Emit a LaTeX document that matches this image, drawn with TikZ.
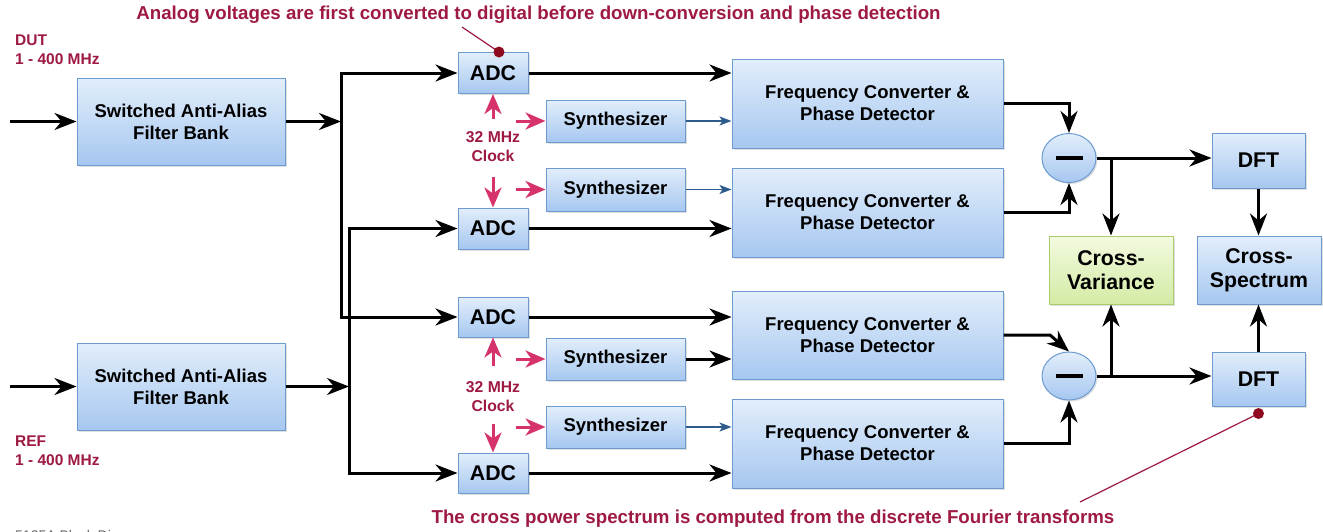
\documentclass[tikz,border=0pt]{standalone}
\usepackage{fontspec}
\setmainfont{Liberation Sans}
\usetikzlibrary{arrows.meta,shapes.geometric,shadows}
\definecolor{annc}{HTML}{9E1A42}
\definecolor{pinkc}{HTML}{D6336C}
\definecolor{dotc}{HTML}{8E0B1F}
\definecolor{bborder}{HTML}{6D9BD1}
\definecolor{btop}{HTML}{E2EEFB}
\definecolor{bbot}{HTML}{A6C7F0}
\definecolor{gborder}{HTML}{A9CC6F}
\definecolor{gtop}{HTML}{F3FADF}
\definecolor{gbot}{HTML}{D3EBA5}
\definecolor{thinc}{HTML}{2D5B8C}
\newcommand\mysz[2]{\fontsize{#1pt}{#2pt}\selectfont\bfseries}
\begin{document}
\begin{tikzpicture}[x=1pt,y=-1pt,
  box/.style={draw=bborder, line width=1pt, top color=btop, bottom color=bbot,
    inner sep=0pt, align=center, drop shadow={shadow xshift=1.5pt, shadow yshift=-1.5pt, opacity=0.25}},
  gbox/.style={box, draw=gborder, top color=gtop, bottom color=gbot},
  mid/.style={font=\mysz{18.5}{22}},
  big/.style={font=\mysz{21.3}{24}},
  blk/.style={line width=3pt, line join=miter, -{Stealth[length=22pt,width=17pt,inset=7pt]}},
  pk/.style={draw=pinkc, line width=3pt, -{Stealth[length=20pt,width=17pt,inset=6pt]}},
  thn/.style={draw=thinc, line width=1.5pt, -{Stealth[length=12pt,width=9pt,inset=3pt]}},
  ann/.style={text=annc, font=\mysz{18.7}{21}, inner sep=0pt},
  lbl/.style={text=annc, font=\mysz{15.5}{18.5}, align=left, inner sep=0pt, anchor=north west},
  clk/.style={text=annc, font=\mysz{15.7}{19}, align=center, inner sep=0pt},
]
\fill[white] (0,0) rectangle (1323,531);
\useasboundingbox (0,0) rectangle (1323,531);

% annotations
\node[ann] (ann1) at (538.5,15) {Analog voltages are first converted to digital before down-conversion and phase detection};
\node[ann] (ann2) at (773,519) {The cross power spectrum is computed from the discrete Fourier transforms};
\node[lbl] (dut) at (15,35) {DUT\\1 - 400 MHz};
\node[lbl] (ref) at (15,436) {REF\\1 - 400 MHz};
\node[anchor=base west, inner sep=0pt, text=black!60, font=\fontsize{14pt}{16pt}\selectfont] (cap) at (15,540) {5125A Block Diagram};

% filter banks
\node[box, mid, minimum width=208pt, minimum height=87pt] (fb1) at (181,121.5) {Switched Anti-Alias\\Filter Bank};
\node[box, mid, minimum width=208pt, minimum height=87pt] (fb2) at (181,386.5) {Switched Anti-Alias\\Filter Bank};

% ADCs
\node[box, big, minimum width=70pt, minimum height=41pt] (adc1) at (493,73) {ADC};
\node[box, big, minimum width=70pt, minimum height=41pt] (adc2) at (493,228.5) {ADC};
\node[box, big, minimum width=70pt, minimum height=40pt] (adc3) at (493,317) {ADC};
\node[box, big, minimum width=70pt, minimum height=40pt] (adc4) at (493,473) {ADC};

% synthesizers
\node[box, mid, minimum width=139pt, minimum height=42pt] (syn1) at (615.5,121) {Synthesizer};
\node[box, mid, minimum width=139pt, minimum height=43pt] (syn2) at (615.5,189.5) {Synthesizer};
\node[box, mid, minimum width=139pt, minimum height=42pt] (syn3) at (615.5,359) {Synthesizer};
\node[box, mid, minimum width=139pt, minimum height=42pt] (syn4) at (615.5,427) {Synthesizer};

% frequency converters
\node[box, mid, minimum width=271pt, minimum height=89pt] (fc1) at (867.5,103.5) {Frequency Converter \&\\Phase Detector};
\node[box, mid, minimum width=271pt, minimum height=89pt] (fc2) at (867.5,212.5) {Frequency Converter \&\\Phase Detector};
\node[box, mid, minimum width=271pt, minimum height=88pt] (fc3) at (867.5,335) {Frequency Converter \&\\Phase Detector};
\node[box, mid, minimum width=271pt, minimum height=89pt] (fc4) at (867.5,443.5) {Frequency Converter \&\\Phase Detector};

% subtractors
\node[box, ellipse, minimum width=54pt, minimum height=49pt] (sub1) at (1069,158) {\rule[-2pt]{27pt}{4pt}};
\node[box, ellipse, minimum width=54pt, minimum height=48pt] (sub2) at (1069,376) {\rule[-2pt]{27pt}{4pt}};

% DFTs and results
\node[box, big, minimum width=93pt, minimum height=55pt] (dft1) at (1258.5,160.5) {DFT};
\node[box, big, minimum width=93pt, minimum height=54pt] (dft2) at (1258.5,379) {DFT};
\node[gbox, big, minimum width=124pt, minimum height=68pt] (cv) at (1111,270) {Cross-\\Variance};
\node[box, big, minimum width=124pt, minimum height=68pt] (cs) at (1259,270) {Cross-\\Spectrum};

% clocks
\node[clk] (clk1) at (493,146.5) {32 MHz\\Clock};
\node[clk] (clk2) at (493,396.5) {32 MHz\\Clock};

% coordinates
\coordinate (in1) at (10,121.5);
\coordinate (in2) at (10,386.5);
\coordinate (j1) at (341,121.5);
\coordinate (j2) at (349,386.5);
\coordinate (c1u) at (493,119);
\coordinate (c1d) at (493,177);
\coordinate (c1a) at (516,121);
\coordinate (c1b) at (516,189.5);
\coordinate (c2u) at (493,366);
\coordinate (c2d) at (493,424);
\coordinate (c2a) at (516,359);
\coordinate (c2b) at (516,427);
\coordinate (b3) at (1050,335);
\coordinate (a1) at (462,27);
\coordinate (a2) at (1080,502);

% input wiring
\draw[blk] (in1) -- (fb1.west);
\draw[blk] (in2) -- (fb2.west);
\draw[blk] (fb1.east) -- (j1);
\draw[blk] (fb2.east) -- (j2);
\draw[blk] (j1) |- (adc1.west);
\draw[blk] (j1) |- (adc3.west);
\draw[blk] (j2) |- (adc2.west);
\draw[blk] (j2) |- (adc4.west);

% ADC -> FC
\draw[blk] (adc1.east) -- (adc1.east -| fc1.west);
\draw[blk] (adc2.east) -- (adc2.east -| fc2.west);
\draw[blk] (adc3.east) -- (adc3.east -| fc3.west);
\draw[blk] (adc4.east) -- (adc4.east -| fc4.west);

% Synth -> FC
\draw[thn] (syn1.east) -- (syn1.east -| fc1.west);
\draw[thn] (syn2.east) -- (syn2.east -| fc2.west);
\draw[blk] (syn3.east) -- (syn3.east -| fc3.west);
\draw[thn] (syn4.east) -- (syn4.east -| fc4.west);

% clock arrows
\draw[pk] (c1u) -- (adc1.south);
\draw[pk] (c1d) -- (adc2.north);
\draw[pk] (c1a) -- (syn1.west);
\draw[pk] (c1b) -- (syn2.west);
\draw[pk] (c2u) -- (adc3.south);
\draw[pk] (c2d) -- (adc4.north);
\draw[pk] (c2a) -- (syn3.west);
\draw[pk] (c2b) -- (syn4.west);

% FC -> subtractors
\draw[blk] (fc1.east) -| (sub1.north);
\draw[blk] (fc2.east) -| (sub1.south);
\draw[blk] (fc3.east) -- (b3) -- (sub2.north);
\draw[blk] (fc4.east) -| (sub2.south);

% outputs
\draw[blk] (sub1.east) -- (sub1.east -| dft1.west);
\draw[blk] (sub2.east) -- (sub2.east -| dft2.west);
\draw[blk] (sub1.east -| cv.north) -- (cv.north);
\draw[blk] (sub2.east -| cv.south) -- (cv.south);
\draw[blk] (dft1.south) -- (dft1.south |- cs.north);
\draw[blk] (dft2.north) -- (dft2.north |- cs.south);

% annotation pointers
\draw[annc, line width=1.2pt] (a1) -- ([xshift=6pt]adc1.north);
\fill[dotc] ([xshift=6pt]adc1.north) circle (5.5pt);
\draw[annc, line width=1.2pt] (a2) -- ([yshift=-7pt]dft2.south);
\fill[dotc] ([yshift=-7pt]dft2.south) circle (5.5pt);
\end{tikzpicture}
\end{document}
